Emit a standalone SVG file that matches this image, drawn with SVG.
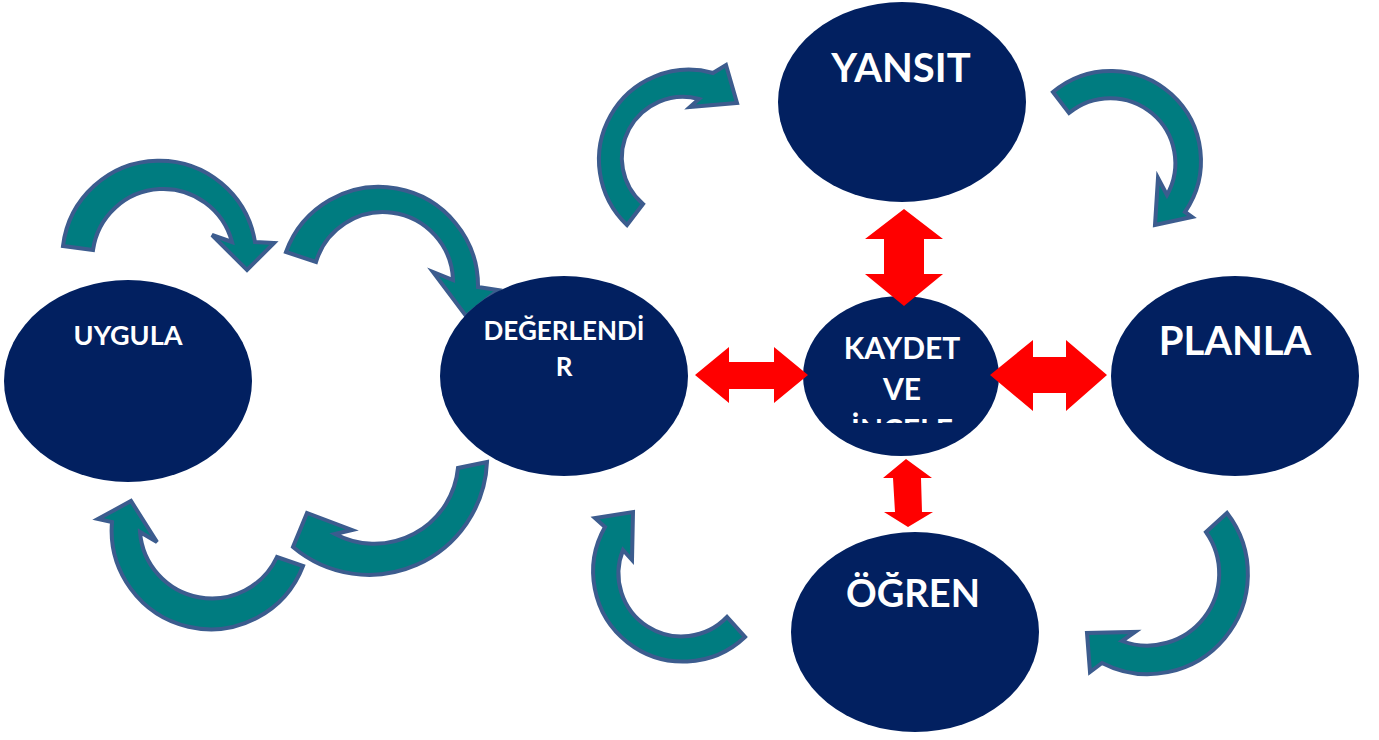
<svg xmlns="http://www.w3.org/2000/svg" width="1379" height="740" viewBox="0 0 1379 740">
<style>
.curv{fill:#007C80;stroke:#3C5C8E;stroke-width:4;stroke-linejoin:miter}
.node{fill:#022060}
.dbl{fill:#FF0000}
.t{font-family:Lato,"Liberation Sans",sans-serif;font-weight:bold;fill:#FFFFFF;text-anchor:middle}
</style>
<defs>
<clipPath id="kclip"><rect x="800" y="290" width="210" height="133"/></clipPath>
</defs>
<g id="cycle-arrows">
<path class="curv" d="M627,225 A90 90 0 0 1 713,73 L726,65 L737,103 L690,107 L699,99 A61 61 0 0 0 643,204 Z"/>
<path class="curv" d="M1053,92 A90 90 0 0 1 1185,212 L1192,217 L1155,225 L1158,178 L1167,195 A65 65 0 0 0 1069,113 Z"/>
<path class="curv" d="M63,246 A97 97 0 0 1 255,242 L274,243 L247,270 L212,235 L232,242 A71 71 0 0 0 93,250 Z"/>
<path class="curv" d="M286,252 A99 99 0 0 1 478,287 L498,290 L466,316 L433,272 L453,280 A70 70 0 0 0 316,262 Z"/>
<path class="curv" d="M303,566 A99 99 0 0 1 112,522 L98,519 L131,501 L157,542 L140,532 A72 72 0 0 0 277,557 Z"/>
<path class="curv" d="M487,462 A118 118 0 0 1 293,547 L307,513 L352,530 L335,534 A84 84 0 0 0 458,468 Z"/>
<path class="curv" d="M745,637 A90 90 0 0 1 605,527 L595,518 L633,512 L632,560 L623,550 A63 63 0 0 0 727,617 Z"/>
<path class="curv" d="M1227,513 A100 100 0 0 1 1102,663 L1090,672 L1087,633 L1135,632 L1122,641 A72 72 0 0 0 1206,532 Z"/>
</g>
<g id="node-yansit">
<ellipse class="node" cx="902" cy="102" rx="124" ry="100"/>
<text class="t" x="901" y="82" font-size="40">YANSIT</text>
</g>
<g id="node-planla">
<ellipse class="node" cx="1235" cy="376" rx="124" ry="100"/>
<text class="t" x="1235" y="355" font-size="40">PLANLA</text>
</g>
<g id="node-ogren">
<ellipse class="node" cx="915" cy="632" rx="124" ry="100"/>
<text class="t" x="913" y="607" font-size="38">ÖĞREN</text>
</g>
<g id="node-degerlendir">
<ellipse class="node" cx="564" cy="376" rx="124" ry="100"/>
<text class="t" x="564" y="340" font-size="26">DEĞERLENDİ</text>
<text class="t" x="564" y="376" font-size="26">R</text>
</g>
<g id="node-uygula">
<ellipse class="node" cx="128" cy="381" rx="124" ry="101"/>
<text class="t" x="128" y="345" font-size="27">UYGULA</text>
</g>
<g id="node-kaydet">
<ellipse class="node" cx="901" cy="376" rx="98" ry="80"/>
<g clip-path="url(#kclip)">
<text class="t" x="902" y="359" font-size="30">KAYDET</text>
<text class="t" x="902" y="400" font-size="30">VE</text>
<text class="t" x="902" y="441" font-size="30">İNCELE</text>
</g>
</g>
<g id="connectors">
<polygon class="dbl" points="904,209 943,239 924,239 924,274 943,274 904,306 865,274 884,274 884,239 865,239"/>
<polygon class="dbl" points="695,375 729,347 729,362 774,362 774,347 808,375 774,403 774,389 729,389 729,403"/>
<polygon class="dbl" points="990,375 1033,340 1033,357 1066,357 1066,340 1107,375 1066,411 1066,393 1033,393 1033,411"/>
<polygon class="dbl" points="906,459 932,478 921,478 922,512 933,512 908,527 884,512 895,512 893,478 883,478"/>
</g>
</svg>
